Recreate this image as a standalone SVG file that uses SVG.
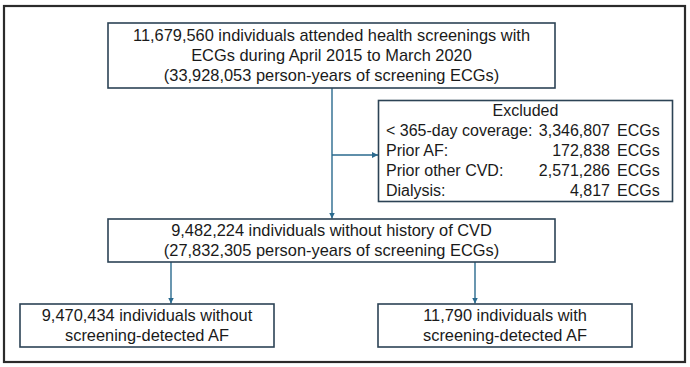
<svg xmlns="http://www.w3.org/2000/svg" width="690" height="367" viewBox="0 0 690 367">
<defs>
<style>
.frame{fill:#fff;stroke:#2b2b2b;stroke-width:2.2}
.box{fill:#fff;stroke:#2c4355;stroke-width:1.6}
.t{font-family:"Liberation Sans",Arial,sans-serif;font-size:16.4px;fill:#1a1a1a}
.x{font-size:16px}
.c{text-anchor:middle}
.e{text-anchor:end}
.conn{fill:none;stroke:#2a6a8e;stroke-width:1.4}
</style>
<marker id="arr" markerWidth="6" markerHeight="6" refX="6" refY="3" orient="auto" markerUnits="userSpaceOnUse">
<path d="M0,0 L6,3 L0,6 z" fill="#2a6a8e"/>
</marker>
</defs>
<rect x="0" y="0" width="690" height="367" fill="#fff"/>
<rect class="frame" x="4" y="6" width="681" height="356"/>
<g id="connectors">
<line class="conn" x1="332" y1="88" x2="332" y2="218.5" marker-end="url(#arr)"/>
<line class="conn" x1="332" y1="155" x2="378" y2="155" marker-end="url(#arr)"/>
<line class="conn" x1="171" y1="262" x2="171" y2="303.5" marker-end="url(#arr)"/>
<line class="conn" x1="475" y1="262" x2="475" y2="303.5" marker-end="url(#arr)"/>
</g>
<g id="n-start">
<rect class="box" x="108" y="23" width="447" height="65"/>
<text class="t c" x="331.5" y="41">11,679,560 individuals attended health screenings with</text>
<text class="t c" x="331.5" y="61">ECGs during April 2015 to March 2020</text>
<text class="t c" x="331.5" y="81">(33,928,053 person-years of screening ECGs)</text>
</g>
<g id="n-excluded">
<rect class="box" x="378.5" y="100.5" width="294" height="101"/>
<text class="t x c" x="525.5" y="116">Excluded</text>
<text class="t x" x="386" y="136">&lt; 365-day coverage:</text>
<text class="t x e" x="610" y="136">3,346,807</text>
<text class="t x" x="617" y="136">ECGs</text>
<text class="t x" x="386" y="156">Prior AF:</text>
<text class="t x e" x="610" y="156">172,838</text>
<text class="t x" x="617" y="156">ECGs</text>
<text class="t x" x="386" y="176">Prior other CVD:</text>
<text class="t x e" x="610" y="176">2,571,286</text>
<text class="t x" x="617" y="176">ECGs</text>
<text class="t x" x="386" y="196">Dialysis:</text>
<text class="t x e" x="610" y="196">4,817</text>
<text class="t x" x="617" y="196">ECGs</text>
</g>
<g id="n-nocvd">
<rect class="box" x="108" y="219" width="447" height="43"/>
<text class="t c" x="331.5" y="236">9,482,224 individuals without history of CVD</text>
<text class="t c" x="331.5" y="256">(27,832,305 person-years of screening ECGs)</text>
</g>
<g id="n-noaf">
<rect class="box" x="20" y="304" width="254" height="43"/>
<text class="t c" x="147" y="321">9,470,434 individuals without</text>
<text class="t c" x="147" y="341">screening-detected AF</text>
</g>
<g id="n-af">
<rect class="box" x="378" y="304" width="254" height="43"/>
<text class="t c" x="505" y="321">11,790 individuals with</text>
<text class="t c" x="505" y="341">screening-detected AF</text>
</g>
</svg>
